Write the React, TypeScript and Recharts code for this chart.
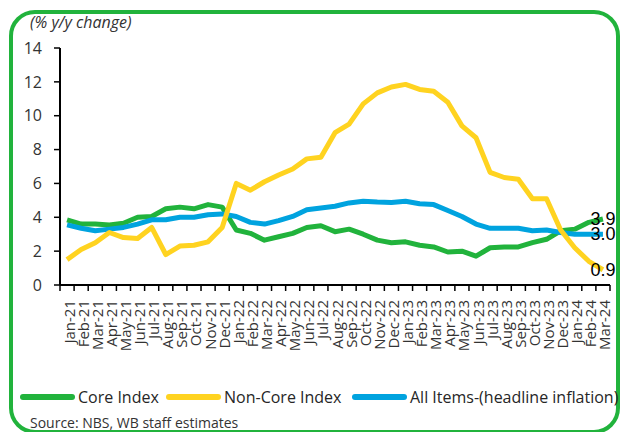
import React from "react";
import { LineChart, Line, XAxis, YAxis, ReferenceDot } from "recharts";

const GREEN = "#21B33C";
const YELLOW = "#FFD320";
const BLUE = "#00A3DF";
const FONT = "'Open Sans', sans-serif";

const months = [
  "Jan-21", "Feb-21", "Mar-21", "Apr-21", "May-21", "Jun-21", "Jul-21", "Aug-21", "Sep-21", "Oct-21", "Nov-21", "Dec-21",
  "Jan-22", "Feb-22", "Mar-22", "Apr-22", "May-22", "Jun-22", "Jul-22", "Aug-22", "Sep-22", "Oct-22", "Nov-22", "Dec-22",
  "Jan-23", "Feb-23", "Mar-23", "Apr-23", "May-23", "Jun-23", "Jul-23", "Aug-23", "Sep-23", "Oct-23", "Nov-23", "Dec-23",
  "Jan-24", "Feb-24", "Mar-24",
];

const coreIndex = [
  3.85, 3.6, 3.6, 3.55, 3.65, 4.0, 4.05, 4.5, 4.6, 4.5, 4.75, 4.6,
  3.25, 3.05, 2.65, 2.85, 3.05, 3.4, 3.5, 3.15, 3.3, 3.0, 2.65, 2.5,
  2.55, 2.35, 2.25, 1.95, 2.0, 1.7, 2.2, 2.25, 2.25, 2.5, 2.7, 3.2,
  3.3, 3.7, 3.9,
];

const nonCoreIndex = [
  1.5, 2.1, 2.5, 3.1, 2.8, 2.75, 3.4, 1.8, 2.3, 2.35, 2.55, 3.4,
  6.0, 5.6, 6.1, 6.5, 6.85, 7.45, 7.55, 9.0, 9.5, 10.7, 11.35, 11.7,
  11.85, 11.55, 11.45, 10.8, 9.4, 8.7, 6.65, 6.35, 6.25, 5.1, 5.1, 3.25,
  2.2, 1.4, 0.9,
];

const allItems = [
  3.55, 3.35, 3.2, 3.3, 3.4, 3.6, 3.85, 3.85, 4.0, 4.0, 4.15, 4.2,
  4.05, 3.7, 3.6, 3.8, 4.05, 4.45, 4.55, 4.65, 4.85, 4.95, 4.9, 4.88,
  4.95, 4.8, 4.75, 4.4, 4.05, 3.6, 3.35, 3.35, 3.35, 3.2, 3.25, 3.1,
  3.0, 3.0, 3.0,
];

const yTicks = [0, 2, 4, 6, 8, 10, 12, 14];

const data = months.map((m, i) => ({
  month: m,
  core: coreIndex[i],
  nonCore: nonCoreIndex[i],
  all: allItems[i],
}));

const LAST = months.length - 1;
const PLOT_W = 550;
const BAND = PLOT_W / months.length;

// ticks sit on the category boundaries, labels on the category centre
function XTick(props: any) {
  const { x, y, payload, index } = props;
  const axisY = y - 8;
  return (
    <g>
      {index === 0 && <line x1={x - BAND / 2} y1={axisY} x2={x - BAND / 2} y2={axisY + 6} stroke="#000" strokeWidth={1.5} />}
      <line x1={x + BAND / 2} y1={axisY} x2={x + BAND / 2} y2={axisY + 6} stroke="#000" strokeWidth={1.5} />
      <text
        x={x}
        y={y + 7}
        transform={`rotate(-90, ${x}, ${y + 7})`}
        textAnchor="end"
        dy="0.5em"
        fontSize={15}
        fontFamily={FONT}
        fill="#333"
      >
        {payload.value}
      </text>
    </g>
  );
}

function endLabel(value: number) {
  return (p: any) => (
    <text
      x={p.cx}
      y={p.cy}
      textAnchor="middle"
      dominantBaseline="central"
      fontSize={18}
      fontFamily="'Liberation Sans', Arial, sans-serif"
      fill="#000"
    >
      {value.toFixed(1)}
    </text>
  );
}

const legendItems = [
  { label: "Core Index", color: GREEN, left: 20 },
  { label: "Non-Core Index", color: YELLOW, left: 166 },
  { label: "All Items-(headline inflation)", color: BLUE, left: 352 },
];

export default function App() {
  return (
    <div style={{ position: "absolute", left: 0, top: 0, width: 620, height: 432, overflow: "hidden", background: "#fff", fontFamily: FONT }}>
      <div
        style={{
          position: "absolute", left: 9, top: 10, width: 611, height: 424,
          border: `4px solid ${GREEN}`, borderRadius: 26, boxSizing: "border-box",
        }}
      />
      <div style={{ position: "absolute", left: 30, top: 12, fontSize: 16, fontStyle: "italic", color: "#333", lineHeight: "20px" }}>
        (% y/y change)
      </div>

      <div style={{ position: "absolute", left: 0, top: 0 }}>
        <LineChart width={620} height={432} data={data} margin={{ top: 48, right: 10, left: 0, bottom: 0 }}>
          <XAxis
            dataKey="month"
            scale="band"
            interval={0}
            height={147}
            tickSize={6}
            tickMargin={2}
            tickLine={false}
            axisLine={{ stroke: "#000", strokeWidth: 2 }}
            tick={<XTick />}
          />
          <YAxis
            width={60}
            domain={[0, 14]}
            ticks={yTicks}
            tickSize={6}
            tickMargin={12}
            axisLine={{ stroke: "#000", strokeWidth: 2 }}
            tickLine={{ stroke: "#000", strokeWidth: 1.5 }}
            tick={{ fontSize: 16, fontFamily: FONT, fill: "#333" }}
          />
          <Line dataKey="core" name="Core Index" stroke={GREEN} strokeWidth={5} dot={false} isAnimationActive={false} strokeLinejoin="round" />
          <Line dataKey="all" name="All Items-(headline inflation)" stroke={BLUE} strokeWidth={5} dot={false} isAnimationActive={false} strokeLinejoin="round" />
          <Line dataKey="nonCore" name="Non-Core Index" stroke={YELLOW} strokeWidth={5} dot={false} isAnimationActive={false} strokeLinejoin="round" />
          <ReferenceDot x={months[LAST]} y={coreIndex[LAST]} ifOverflow="visible" shape={endLabel(coreIndex[LAST])} />
          <ReferenceDot x={months[LAST]} y={allItems[LAST]} ifOverflow="visible" shape={endLabel(allItems[LAST])} />
          <ReferenceDot x={months[LAST]} y={nonCoreIndex[LAST]} ifOverflow="visible" shape={endLabel(nonCoreIndex[LAST])} />
        </LineChart>
      </div>

      {legendItems.map((it) => (
        <div key={it.label} style={{ position: "absolute", left: it.left, top: 386, height: 22, display: "flex", alignItems: "center", whiteSpace: "nowrap" }}>
          <span style={{ display: "inline-block", width: 55, height: 6, borderRadius: 3, background: it.color }} />
          <span style={{ marginLeft: 3, fontSize: 16, color: "#262626" }}>{it.label}</span>
        </div>
      ))}

      <div style={{ position: "absolute", left: 30, top: 414, fontSize: 14, color: "#333", lineHeight: "18px" }}>
        Source: NBS, WB staff estimates
      </div>
    </div>
  );
}
